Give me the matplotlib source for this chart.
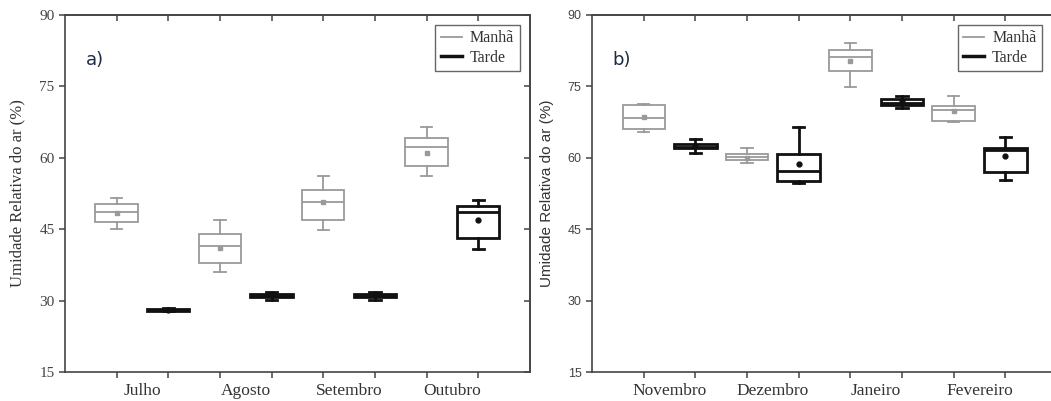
import matplotlib
matplotlib.use("Agg")
import matplotlib.pyplot as plt
from matplotlib.lines import Line2D

# ---- data ----
meses_a = ["Julho", "Agosto", "Setembro", "Outubro"]
manha_a_wlo = [45.1, 36.0, 44.8, 56.1]
manha_a_q1 = [46.4, 37.9, 46.8, 58.2]
manha_a_med = [48.6, 41.4, 50.7, 62.2]
manha_a_q3 = [50.3, 43.9, 53.1, 64.0]
manha_a_whi = [51.5, 46.9, 56.1, 66.3]
manha_a_mean = [48.3, 41.1, 50.6, 60.9]

tarde_a_wlo = [27.7, 30.1, 30.1, 40.9]
tarde_a_q1 = [27.9, 30.7, 30.7, 43.1]
tarde_a_med = [28.1, 31.0, 31.0, 48.6]
tarde_a_q3 = [28.3, 31.3, 31.3, 49.8]
tarde_a_whi = [28.5, 31.8, 31.8, 51.0]
tarde_a_mean = [28.1, 31.2, 31.2, 46.9]

meses_b = ["Novembro", "Dezembro", "Janeiro", "Fevereiro"]
manha_b_wlo = [65.4, 58.8, 74.8, 67.4]
manha_b_q1 = [66.0, 59.4, 78.1, 67.6]
manha_b_med = [68.3, 60.2, 81.1, 70.0]
manha_b_q3 = [71.1, 60.8, 82.6, 70.9]
manha_b_whi = [71.3, 62.0, 84.0, 73.0]
manha_b_mean = [68.6, 60.0, 80.3, 69.8]

tarde_b_wlo = [61.0, 54.6, 70.4, 55.3]
tarde_b_q1 = [61.9, 55.0, 71.1, 56.9]
tarde_b_med = [62.3, 57.1, 71.4, 61.5]
tarde_b_q3 = [62.9, 60.8, 72.3, 62.0]
tarde_b_whi = [63.9, 66.5, 73.0, 64.2]
tarde_b_mean = [62.4, 58.6, 71.8, 60.3]

y_ticks = [15, 30, 45, 60, 75, 90]
ylabel = "Umidade Relativa do ar (%)"

GRAY = "#9a9a9a"
BLACK = "#111111"
SPINE = "#444444"
SERIF = "Liberation Serif"
SANS = "Liberation Sans"


def stats(wlo, q1, med, q3, whi, mean):
    return [dict(whislo=a, q1=b, med=c, q3=d, whishi=e, mean=f, fliers=[])
            for a, b, c, d, e, f in zip(wlo, q1, med, q3, whi, mean)]


def draw_boxes(ax, st, positions, color, lw, marker, msize):
    ax.bxp(st, positions=positions, widths=0.82, showmeans=True,
           showfliers=False, patch_artist=True,
           boxprops=dict(facecolor="white", edgecolor=color, linewidth=lw),
           medianprops=dict(color=color, linewidth=lw),
           whiskerprops=dict(color=color, linewidth=lw),
           capprops=dict(color=color, linewidth=lw),
           capwidths=0.22,
           meanprops=dict(marker=marker, markersize=msize,
                          markerfacecolor=color, markeredgecolor=color))


def panel(ax, meses, manha, tarde, tag, tick_font, tick_size, label_font,
          label_size, leg_x):
    pos_m = [2 * i + 1 for i in range(len(meses))]
    pos_t = [2 * i + 2 for i in range(len(meses))]
    draw_boxes(ax, stats(*manha), pos_m, GRAY, 1.3, "s", 2.5)
    draw_boxes(ax, stats(*tarde), pos_t, BLACK, 2.0, "o", 3.5)

    ax.set_xlim(0, 9)
    ax.set_ylim(15, 90)
    ax.set_yticks(y_ticks)
    ax.set_yticklabels([str(t) for t in y_ticks], fontfamily=tick_font,
                       fontsize=tick_size, color="#444444")
    major_x = list(range(1, 9))
    ax.set_xticks(major_x)
    ax.set_xticklabels([])
    ax.set_xticks([2 * i + 1.5 for i in range(len(meses))], minor=True)
    ax.set_xticklabels(meses, minor=True, fontfamily=SERIF, fontsize=12.5,
                       color="#333333")
    ax.tick_params(axis="x", which="minor", length=0, pad=8)
    ax.tick_params(axis="both", which="major", direction="out", length=4.5,
                   width=1.1, color=SPINE, top=False, right=False)
    ax.tick_params(axis="y", which="major", pad=3)

    # mirrored ticks on top / right, pointing inward
    top = ax.secondary_xaxis("top")
    top.set_xticks(major_x)
    top.set_xticklabels([])
    top.tick_params(direction="in", length=4.5, width=1.1, color=SPINE)
    right = ax.secondary_yaxis("right")
    right.set_yticks(y_ticks)
    right.set_yticklabels([])
    right.tick_params(direction="in", length=4.5, width=1.1, color=SPINE)
    for sec in (top, right):
        for sp in sec.spines.values():
            sp.set_color(SPINE)
            sp.set_linewidth(1.2)

    for sp in ax.spines.values():
        sp.set_color(SPINE)
        sp.set_linewidth(1.2)

    ax.set_ylabel(ylabel, fontfamily=label_font, fontsize=label_size,
                  color="#333333", labelpad=10)

    ax.text(0.4, 80.5, tag, fontsize=13, color="#1f2a44",
            family="DejaVu Sans", ha="left", va="center")

    handles = [Line2D([], [], color=GRAY, lw=1.3),
               Line2D([], [], color=BLACK, lw=2.5)]
    leg = ax.legend(handles, ["Manhã", "Tarde"], loc="upper right",
                    bbox_to_anchor=(leg_x, 0.971), borderaxespad=0,
                    prop=dict(family=SERIF, size=11.5), handlelength=1.3,
                    handletextpad=0.5, fancybox=False, framealpha=1,
                    edgecolor="#666666", labelspacing=0.2, borderpad=0.35)
    leg.get_frame().set_linewidth(1.0)
    for txt in leg.get_texts():
        txt.set_color("#333333")


fig = plt.figure(figsize=(10.51, 4.01), dpi=100)
ax1 = fig.add_axes([0.0618, 0.0723, 0.4424, 0.8915])
ax2 = fig.add_axes([0.5633, 0.0723, 0.4424, 0.8915])

panel(ax1, meses_a,
      (manha_a_wlo, manha_a_q1, manha_a_med, manha_a_q3, manha_a_whi, manha_a_mean),
      (tarde_a_wlo, tarde_a_q1, tarde_a_med, tarde_a_q3, tarde_a_whi, tarde_a_mean),
      "a)", SERIF, 11, SERIF, 12, 0.978)
panel(ax2, meses_b,
      (manha_b_wlo, manha_b_q1, manha_b_med, manha_b_q3, manha_b_whi, manha_b_mean),
      (tarde_b_wlo, tarde_b_q1, tarde_b_med, tarde_b_q3, tarde_b_whi, tarde_b_mean),
      "b)", SANS, 9, SANS, 11, 0.968)

fig.savefig("out.png", dpi=100)
